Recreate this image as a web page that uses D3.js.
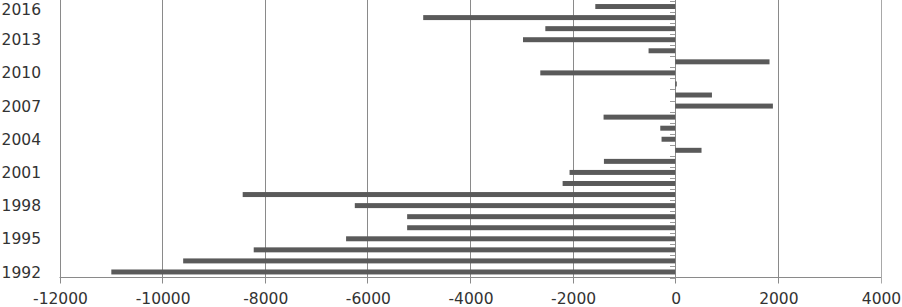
<!DOCTYPE html>
<html>
<head>
<meta charset="utf-8">
<script src="https://cdn.jsdelivr.net/npm/d3@7"></script>
<style>
  html, body { margin: 0; padding: 0; background: #fff; }
  svg { display: block; }
  text { font-family: "DejaVu Sans", sans-serif; font-size: 15.5px; fill: #333; }
</style>
</head>
<body>
<svg id="chart" width="902" height="307"></svg>
<script>
const years = ["1992","1993","1994","1995","1996","1997","1998","1999","2000","2001","2002","2003","2004","2005","2006","2007","2008","2009","2010","2011","2012","2013","2014","2015","2016"];
const values = [-10990,-9590,-8215,-6415,-5225,-5225,-6245,-8430,-2195,-2060,-1390,512,-267,-292,-1397,1903,715,30,-2630,1837,-520,-2967,-2532,-4912,-1558];
const yTickLabels = ["1992","1995","1998","2001","2004","2007","2010","2013","2016"];
const xTicks = [-12000,-10000,-8000,-6000,-4000,-2000,0,2000,4000];

const svg = d3.select("#chart");
const plotLeft = 59.5, plotRight = 880.5, plotTop = 1, plotBottom = 277.5;

const x = d3.scaleLinear().domain([-12000, 4000]).range([plotLeft, plotRight]);
const y = d3.scaleBand().domain(years).range([plotBottom, plotTop]).paddingInner(0.55).paddingOuter(0.275);
const step = y.step();

// gridlines + ticks below axis
svg.append("g").selectAll("line").data(xTicks).join("line")
  .attr("x1", d => Math.round(x(d)) + 0.5).attr("x2", d => Math.round(x(d)) + 0.5)
  .attr("y1", 0).attr("y2", plotBottom + 6)
  .attr("stroke", d => d === 4000 ? "#a8a8a8" : "#8a8a8a").attr("stroke-width", 1);

// bottom axis line
svg.append("line")
  .attr("x1", plotLeft).attr("x2", plotRight + 0.5)
  .attr("y1", plotBottom).attr("y2", plotBottom)
  .attr("stroke", "#8a8a8a").attr("stroke-width", 1);

// bars
const data = years.map((yr, i) => ({ yr, v: values[i] }));
svg.append("g").selectAll("rect").data(data).join("rect")
  .attr("x", d => x(Math.min(0, d.v)))
  .attr("width", d => Math.abs(x(d.v) - x(0)))
  .attr("y", d => y(d.yr))
  .attr("height", y.bandwidth())
  .attr("fill", "#5a5a5a");

// zero axis ticks at category boundaries
const bounds = d3.range(years.length + 1).map(i => plotBottom - i * step);
svg.append("g").selectAll("line").data(bounds).join("line")
  .attr("x1", Math.round(x(0)) - 5).attr("x2", Math.round(x(0)))
  .attr("y1", d => Math.round(d) + 0.5).attr("y2", d => Math.round(d) + 0.5)
  .attr("stroke", "#9a9a9a").attr("stroke-width", 1);

// x tick labels
svg.append("g").selectAll("text").data(xTicks).join("text")
  .attr("x", d => x(d) + 1)
  .attr("y", 303.5)
  .attr("text-anchor", "middle")
  .text(d => d);

// y labels
svg.append("g").selectAll("text").data(yTickLabels).join("text")
  .attr("x", 41)
  .attr("y", d => Math.max(y(d) + y.bandwidth() / 2, 9.5))
  .attr("dy", "0.36em")
  .attr("text-anchor", "end")
  .text(d => d);
</script>
</body>
</html>
